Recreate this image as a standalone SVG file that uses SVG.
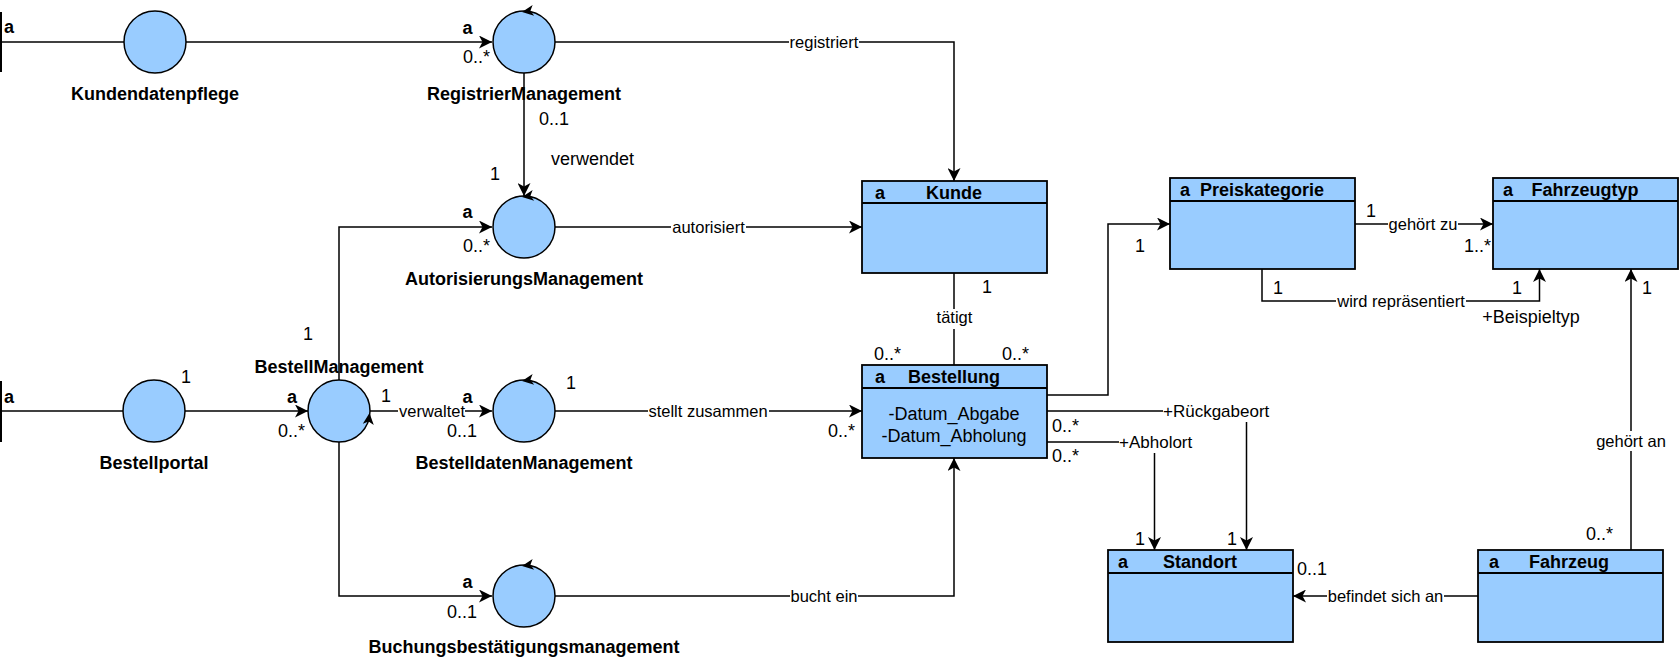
<svg xmlns="http://www.w3.org/2000/svg" xmlns:xlink="http://www.w3.org/1999/xlink" width="1680" height="660" viewBox="0 0 1680 660">
<style>
text{font-family:"Liberation Sans",Arial,Helvetica,sans-serif;fill:#000}
.nl{font-size:18px;font-weight:bold;text-anchor:middle}
.b{font-size:18px;font-weight:bold}
.m{font-size:18px}
.el{font-size:16.5px;text-anchor:middle}
.rl{font-size:17px}
.at{font-size:18px;text-anchor:middle}
.circ{fill:#99CCFF;stroke:#000;stroke-width:1.5}
.box{fill:#99CCFF;stroke:#000;stroke-width:1.8}
.edge{fill:none;stroke:#000;stroke-width:1.5}
.arr{marker-end:url(#arrow)}
.bg{fill:#fff}
</style>
<defs>
<marker id="arrow" markerUnits="userSpaceOnUse" markerWidth="14" markerHeight="13" refX="13" refY="6.5" orient="auto" viewBox="0 0 14 13">
<path d="M0,0 L13,6.5 L0,13 L3.5,6.5 Z" fill="#000"/>
</marker>
<path id="ctl" d="M0,0 L11.5,-5.5 L8.5,0 L11.5,5.5 Z" fill="#000"/>
</defs>
<rect width="1680" height="660" fill="#fff"/>

<g id="connectors">
<path class="edge" d="M0,42 H124"/>
<path class="edge arr" d="M186,42 H492"/>
<path class="edge arr" d="M555,42 H954 V181"/>
<path class="edge arr" d="M524,73 V196"/>
<path class="edge arr" d="M555,227 H862"/>
<path class="edge arr" d="M339,380 V227 H492"/>
<path class="edge" d="M0,411 H123"/>
<path class="edge arr" d="M185,411 H308"/>
<path class="edge arr" d="M370,411 H492"/>
<path class="edge arr" d="M555,411 H862"/>
<path class="edge arr" d="M339,442 V596 H492"/>
<path class="edge arr" d="M555,596 H954 V458"/>
<path class="edge" d="M954,273 V365"/>
<path class="edge arr" d="M1047,395 H1108 V224 H1170"/>
<path class="edge arr" d="M1047,411 H1246.5 V550"/>
<path class="edge arr" d="M1047,442 H1154.5 V550"/>
<path class="edge arr" d="M1355,224 H1493"/>
<path class="edge arr" d="M1262,269 V301 H1539.5 V269"/>
<path class="edge arr" d="M1631,550 V269"/>
<path class="edge arr" d="M1478,596 H1293"/>

<rect class="bg" x="789" y="32" width="70" height="20"/><text class="el" x="824" y="48">registriert</text>
<rect class="bg" x="671" y="217" width="75" height="20"/><text class="el" x="708.5" y="233">autorisiert</text>
<rect class="bg" x="398" y="401" width="67" height="20"/><text class="el" x="432" y="417">verwaltet</text>
<rect class="bg" x="648" y="401" width="121" height="20"/><text class="el" x="708" y="417">stellt zusammen</text>
<rect class="bg" x="790" y="586" width="68" height="20"/><text class="el" x="824" y="602">bucht ein</text>
<rect class="bg" x="935" y="309" width="39" height="20"/><text class="el" x="954.5" y="323">tätigt</text>
<rect class="bg" x="1388" y="214" width="70" height="20"/><text class="el" x="1423" y="230">gehört zu</text>
<rect class="bg" x="1336" y="291" width="130" height="20"/><text class="el" x="1401" y="307">wird repräsentiert</text>
<rect class="bg" x="1327" y="586" width="117" height="20"/><text class="el" x="1385.5" y="602">befindet sich an</text>
<rect class="bg" x="1595" y="431" width="72" height="20"/><text class="el" x="1631" y="447">gehört an</text>
<rect class="bg" x="1163" y="400" width="107" height="22"/><text class="rl" x="1163" y="417">+Rückgabeort</text>
<rect class="bg" x="1119" y="431" width="72" height="22"/><text class="rl" x="1119" y="448">+Abholort</text>

<text class="b" x="4" y="33">a</text>
<text class="b" x="4" y="403">a</text>
<text class="b" x="462.5" y="34">a</text>
<text class="m" x="463" y="63">0..*</text>
<text class="b" x="462.5" y="218">a</text>
<text class="m" x="463" y="252">0..*</text>
<text class="m" x="539" y="125">0..1</text>
<text class="m" x="551" y="165">verwendet</text>
<text class="m" x="490" y="180">1</text>
<text class="m" x="303" y="340">1</text>
<text class="m" x="181" y="383">1</text>
<text class="b" x="287" y="403">a</text>
<text class="m" x="278" y="437">0..*</text>
<text class="m" x="381" y="402">1</text>
<text class="b" x="462.5" y="403">a</text>
<text class="m" x="447" y="437">0..1</text>
<text class="m" x="566" y="389">1</text>
<text class="b" x="462.5" y="588">a</text>
<text class="m" x="447" y="618">0..1</text>
<text class="m" x="982" y="293">1</text>
<text class="m" x="874" y="360">0..*</text>
<text class="m" x="1002" y="360">0..*</text>
<text class="m" x="828" y="437">0..*</text>
<text class="m" x="1052" y="432">0..*</text>
<text class="m" x="1052" y="462">0..*</text>
<text class="m" x="1135" y="252">1</text>
<text class="m" x="1366" y="217">1</text>
<text class="m" x="1464" y="252">1..*</text>
<text class="m" x="1273" y="294">1</text>
<text class="m" x="1512" y="294">1</text>
<text class="m" x="1642" y="294">1</text>
<text class="m" x="1531" y="323" text-anchor="middle">+Beispieltyp</text>
<text class="m" x="1135" y="545">1</text>
<text class="m" x="1227" y="545">1</text>
<text class="m" x="1297" y="575">0..1</text>
<text class="m" x="1586" y="540">0..*</text>
</g>

<g id="Kundendatenpflege">
<rect x="0" y="12" width="2" height="60" fill="#000"/>
<circle class="circ" cx="155" cy="42" r="31"/>
<text class="nl" x="155" y="100">Kundendatenpflege</text>
</g>
<g id="RegistrierManagement">
<circle class="circ" cx="524" cy="42" r="31"/>
<use xlink:href="#ctl" transform="translate(522,12) rotate(-8)"/>
<text class="nl" x="524" y="100">RegistrierManagement</text>
</g>
<g id="AutorisierungsManagement">
<circle class="circ" cx="524" cy="227" r="31"/>
<use xlink:href="#ctl" transform="translate(522,197) rotate(-8)"/>
<text class="nl" x="524" y="285">AutorisierungsManagement</text>
</g>
<g id="Bestellportal">
<rect x="0" y="381" width="2" height="61" fill="#000"/>
<circle class="circ" cx="154" cy="411" r="31"/>
<text class="nl" x="154" y="469">Bestellportal</text>
</g>
<g id="BestellManagement">
<circle class="circ" cx="339" cy="411" r="31"/>
<use xlink:href="#ctl" transform="translate(369.5,413) rotate(96)"/>
<text class="nl" x="339" y="373">BestellManagement</text>
</g>
<g id="BestelldatenManagement">
<circle class="circ" cx="524" cy="411" r="31"/>
<use xlink:href="#ctl" transform="translate(522,381) rotate(-8)"/>
<text class="nl" x="524" y="469">BestelldatenManagement</text>
</g>
<g id="Buchungsbestaetigungsmanagement">
<circle class="circ" cx="524" cy="596" r="31"/>
<use xlink:href="#ctl" transform="translate(522,566) rotate(-8)"/>
<text class="nl" x="524" y="653">Buchungsbestätigungsmanagement</text>
</g>

<g id="Kunde">
<rect class="box" x="862" y="181" width="185" height="92"/>
<line x1="862" y1="203" x2="1047" y2="203" stroke="#000" stroke-width="1.8"/>
<text class="b" x="875" y="199">a</text>
<text class="nl" x="954" y="199">Kunde</text>
</g>
<g id="Bestellung">
<rect class="box" x="862" y="365" width="185" height="93"/>
<line x1="862" y1="388" x2="1047" y2="388" stroke="#000" stroke-width="1.8"/>
<text class="b" x="875" y="383">a</text>
<text class="nl" x="954" y="383">Bestellung</text>
<text class="at" x="954" y="420">-Datum_Abgabe</text>
<text class="at" x="954" y="442">-Datum_Abholung</text>
</g>
<g id="Preiskategorie">
<rect class="box" x="1170" y="178" width="185" height="91"/>
<line x1="1170" y1="201" x2="1355" y2="201" stroke="#000" stroke-width="1.8"/>
<text class="b" x="1180" y="196">a</text>
<text class="nl" x="1262" y="196">Preiskategorie</text>
</g>
<g id="Fahrzeugtyp">
<rect class="box" x="1493" y="178" width="185" height="91"/>
<line x1="1493" y1="201" x2="1678" y2="201" stroke="#000" stroke-width="1.8"/>
<text class="b" x="1503" y="196">a</text>
<text class="nl" x="1585" y="196">Fahrzeugtyp</text>
</g>
<g id="Standort">
<rect class="box" x="1108" y="550" width="185" height="92"/>
<line x1="1108" y1="573" x2="1293" y2="573" stroke="#000" stroke-width="1.8"/>
<text class="b" x="1118" y="568">a</text>
<text class="nl" x="1200" y="568">Standort</text>
</g>
<g id="Fahrzeug">
<rect class="box" x="1478" y="550" width="185" height="92"/>
<line x1="1478" y1="573" x2="1663" y2="573" stroke="#000" stroke-width="1.8"/>
<text class="b" x="1489" y="568">a</text>
<text class="nl" x="1569" y="568">Fahrzeug</text>
</g>
</svg>
